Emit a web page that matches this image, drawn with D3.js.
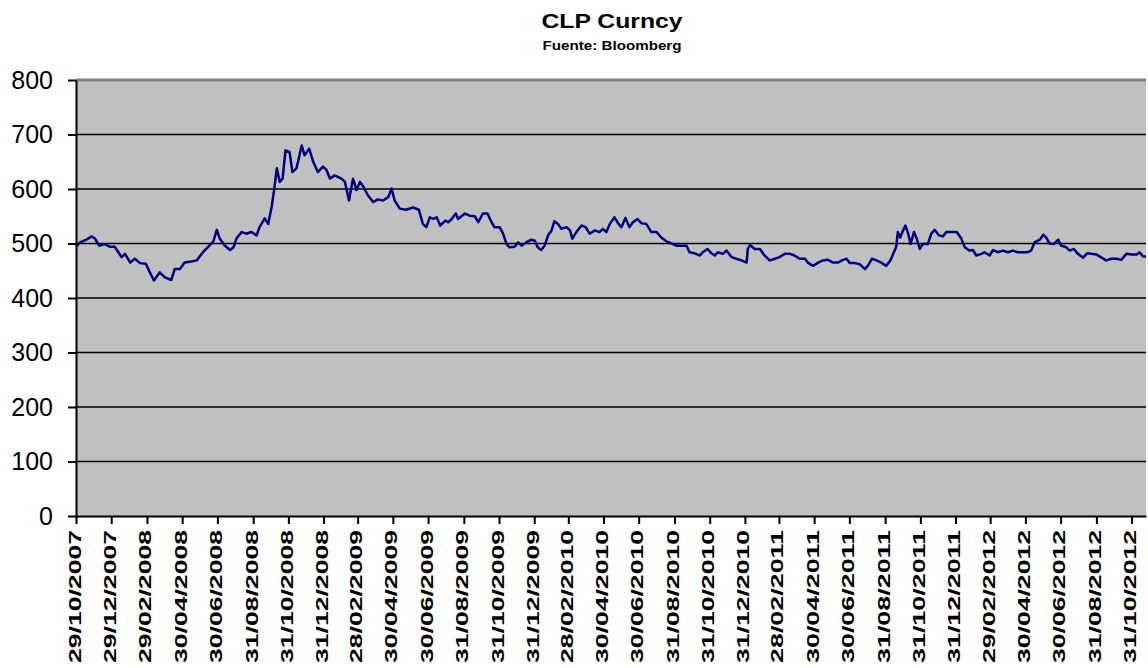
<!DOCTYPE html>
<meta charset="utf-8">
<style>
  body { margin: 0; background: #fff; }
  svg { display: block; font-family: "Liberation Sans", Arial, sans-serif; }
</style>
<svg width="1148" height="668"></svg>
<script src="https://d3js.org/d3.v7.min.js"></script>
<script>

// CLP Curncy (approx)
var fechas = [
  "29/10/2007","05/11/2007","16/11/2007","25/11/2007","01/12/2007","08/12/2007","18/12/2007","27/12/2007",
  "04/01/2008","16/01/2008","22/01/2008","31/01/2008","08/02/2008","17/02/2008","27/02/2008","05/03/2008",
  "12/03/2008","22/03/2008","31/03/2008","11/04/2008","17/04/2008","26/04/2008","04/05/2008","16/05/2008",
  "25/05/2008","05/06/2008","14/06/2008","23/06/2008","29/06/2008","04/07/2008","13/07/2008","22/07/2008",
  "28/07/2008","02/08/2008","11/08/2008","19/08/2008","28/08/2008","06/09/2008","11/09/2008","20/09/2008",
  "26/09/2008","02/10/2008","07/10/2008","11/10/2008","16/10/2008","21/10/2008","26/10/2008","02/11/2008",
  "07/11/2008","14/11/2008","18/11/2008","23/11/2008","28/11/2008","06/12/2008","13/12/2008","21/12/2008",
  "30/12/2008","05/01/2009","11/01/2009","19/01/2009","31/01/2009","06/02/2009","13/02/2009","20/02/2009",
  "26/02/2009","04/03/2009","10/03/2009","18/03/2009","27/03/2009","04/04/2009","13/04/2009","22/04/2009",
  "28/04/2009","03/05/2009","12/05/2009","23/05/2009","04/06/2009","14/06/2009","21/06/2009","27/06/2009",
  "03/07/2009","09/07/2009","15/07/2009","21/07/2009","30/07/2009","04/08/2009","10/08/2009","17/08/2009",
  "21/08/2009","02/09/2009","10/09/2009","19/09/2009","25/09/2009","03/10/2009","11/10/2009","18/10/2009",
  "23/10/2009","01/11/2009","07/11/2009","13/11/2009","18/11/2009","27/11/2009","03/12/2009","09/12/2009",
  "17/12/2009","26/12/2009","01/01/2010","06/01/2010","12/01/2010","18/01/2010","24/01/2010","30/01/2010",
  "04/02/2010","10/02/2010","16/02/2010","25/02/2010","03/03/2010","07/03/2010","14/03/2010","23/03/2010",
  "30/03/2010","06/04/2010","15/04/2010","23/04/2010","29/04/2010","05/05/2010","11/05/2010","19/05/2010",
  "26/05/2010","31/05/2010","07/06/2010","14/06/2010","20/06/2010","28/06/2010","05/07/2010","13/07/2010",
  "22/07/2010","31/07/2010","08/08/2010","17/08/2010","26/08/2010","03/09/2010","12/09/2010","21/09/2010",
  "26/09/2010","05/10/2010","14/10/2010","19/10/2010","27/10/2010","03/11/2010","09/11/2010","14/11/2010",
  "23/11/2010","29/11/2010","08/12/2010","16/12/2010","25/12/2010","03/01/2011","05/01/2011","09/01/2011",
  "17/01/2011","26/01/2011","03/02/2011","12/02/2011","21/02/2011","01/03/2011","10/03/2011","19/03/2011",
  "27/03/2011","05/04/2011","14/04/2011","19/04/2011","28/04/2011","07/05/2011","15/05/2011","24/05/2011",
  "02/06/2011","10/06/2011","19/06/2011","25/06/2011","01/07/2011","10/07/2011","18/07/2011","27/07/2011",
  "01/08/2011","08/08/2011","16/08/2011","24/08/2011","02/09/2011","09/09/2011","14/09/2011","19/09/2011",
  "22/09/2011","26/09/2011","30/09/2011","05/10/2011","10/10/2011","14/10/2011","20/10/2011","24/10/2011",
  "30/10/2011","04/11/2011","13/11/2011","19/11/2011","25/11/2011","02/12/2011","09/12/2011","15/12/2011",
  "24/12/2011","02/01/2012","10/01/2012","16/01/2012","24/01/2012","30/01/2012","05/02/2012","14/02/2012",
  "19/02/2012","28/02/2012","05/03/2012","13/03/2012","22/03/2012","31/03/2012","08/04/2012","17/04/2012",
  "26/04/2012","04/05/2012","10/05/2012","16/05/2012","25/05/2012","31/05/2012","05/06/2012","11/06/2012",
  "18/06/2012","26/06/2012","01/07/2012","10/07/2012","16/07/2012","23/07/2012","30/07/2012","08/08/2012",
  "15/08/2012","22/08/2012","31/08/2012","09/09/2012","17/09/2012","26/09/2012","05/10/2012","13/10/2012",
  "22/10/2012","31/10/2012","09/11/2012","14/11/2012","20/11/2012","25/11/2012"
]

var clp = [
  494,502,507,513,509,496,499,494,
  494,475,481,465,472,464,463,447,
  432,447,438,433,453,453,465,467,
  469,484,494,504,525,509,496,488,
  493,509,521,518,521,515,530,546,
  536,567,604,638,613,619,671,668,
  631,638,656,680,662,674,650,631,
  641,635,619,625,619,613,579,619,
  598,613,604,588,576,581,579,585,
  601,579,564,562,566,562,536,530,
  548,545,548,533,542,539,545,555,
  545,555,551,550,539,555,555,539,
  530,530,518,499,493,494,502,496,
  502,507,505,493,488,496,515,524,
  541,536,527,530,524,509,521,533,
  530,518,524,521,527,521,536,548,
  536,530,547,530,539,545,537,536,
  521,521,511,504,500,496,496,496,
  484,482,478,484,490,482,478,484,
  481,487,475,472,469,465,490,497,
  490,490,478,469,472,475,481,481,
  478,472,472,465,459,465,469,470,
  465,465,470,472,464,464,462,453,
  459,472,469,465,459,469,481,493,
  521,511,521,533,518,499,521,511,
  490,499,499,518,525,515,513,521,
  521,521,509,493,487,488,478,481,
  484,478,488,484,487,484,487,484,
  484,484,487,502,507,516,511,500,
  499,507,496,493,487,490,481,474,
  482,481,480,474,469,472,472,470,
  481,480,480,484,476,476
]

var etiquetas = [
  "29/10/2007","29/12/2007","29/02/2008","30/04/2008","30/06/2008","31/08/2008","31/10/2008",
  "31/12/2008","28/02/2009","30/04/2009","30/06/2009","31/08/2009","31/10/2009","31/12/2009",
  "28/02/2010","30/04/2010","30/06/2010","31/08/2010","31/10/2010","31/12/2010","28/02/2011",
  "30/04/2011","30/06/2011","31/08/2011","31/10/2011","31/12/2011","29/02/2012","30/04/2012",
  "30/06/2012","31/08/2012","31/10/2012"
]

var yTicks = [0, 100, 200, 300, 400, 500, 600, 700, 800]

var parse = d3.timeParse("%d/%m/%Y")
var fmt = d3.timeFormat("%d/%m/%Y")
var data = fechas.map(function (f, i) { return { fecha: parse(f), valor: clp[i] } })

var plotLeft = 76, plotRight = 1146, plotTop = 80, plotBottom = 516

var svg = d3.select("svg")

var x = d3.scaleTime()
  .domain([parse("29/10/2007"), parse("25/11/2012")])
  .range([plotLeft, plotRight])

var y = d3.scaleLinear()
  .domain([0, 800])
  .range([plotBottom, plotTop])

// plot area
svg.append("rect")
  .attr("x", plotLeft).attr("y", plotTop)
  .attr("width", plotRight - plotLeft).attr("height", plotBottom - plotTop)
  .attr("fill", "#c0c0c0")

// gridlines
svg.append("g")
  .selectAll("line")
  .data(yTicks.filter(function (d) { return d > 0 && d < 800 }))
  .enter().append("line")
    .attr("x1", plotLeft).attr("x2", plotRight)
    .attr("y1", function (d) { return y(d) }).attr("y2", function (d) { return y(d) })
    .attr("stroke", "#000").attr("stroke-width", 1.5)

// top border
svg.append("line")
  .attr("x1", plotLeft).attr("x2", plotRight)
  .attr("y1", y(800)).attr("y2", y(800))
  .attr("stroke", "#808080").attr("stroke-width", 3)

// series
var line = d3.line()
  .x(function (d) { return x(d.fecha) })
  .y(function (d) { return y(d.valor) })

svg.append("path")
  .datum(data)
  .attr("fill", "none")
  .attr("stroke", "#000080")
  .attr("stroke-width", 2.5)
  .attr("stroke-linejoin", "round")
  .attr("d", line)

// y axis
var yAxis = svg.append("g")
  .attr("transform", "translate(" + plotLeft + ",0)")
  .call(d3.axisLeft(y).tickValues(yTicks).tickSize(8).tickPadding(15).tickSizeOuter(0))
yAxis.select(".domain").attr("stroke", "#000").attr("stroke-width", 2)
yAxis.selectAll(".tick line").attr("stroke", "#000").attr("stroke-width", 2)
yAxis.selectAll(".tick text")
  .attr("font-size", 25)
  .attr("font-family", "Liberation Sans, Arial, sans-serif")
  .attr("fill", "#000")

// x axis
var xAxis = svg.append("g")
  .attr("transform", "translate(0," + plotBottom + ")")
  .call(d3.axisBottom(x).tickValues(etiquetas.map(parse)).tickFormat(fmt).tickSize(8).tickSizeOuter(0))
xAxis.select(".domain").attr("stroke", "#000").attr("stroke-width", 2)
xAxis.selectAll(".tick line").attr("stroke", "#000").attr("stroke-width", 2)
xAxis.selectAll(".tick text")
  .attr("transform", "rotate(-90)")
  .attr("text-anchor", "end")
  .attr("dy", null)
  .attr("x", -14)
  .attr("y", 4)
  .attr("font-size", 17)
  .attr("font-weight", "bold")
  .attr("font-family", "Liberation Sans, Arial, sans-serif")
  .attr("fill", "#000")
  .attr("textLength", 133)
  .attr("lengthAdjust", "spacingAndGlyphs")

// titles
svg.append("text")
  .attr("x", 612).attr("y", 28)
  .attr("text-anchor", "middle")
  .attr("font-size", 21)
  .attr("font-weight", "bold")
  .attr("textLength", 141)
  .attr("lengthAdjust", "spacingAndGlyphs")
  .text("CLP Curncy")

svg.append("text")
  .attr("x", 612).attr("y", 50)
  .attr("text-anchor", "middle")
  .attr("font-size", 13)
  .attr("font-weight", "bold")
  .attr("textLength", 139)
  .attr("lengthAdjust", "spacingAndGlyphs")
  .text("Fuente: Bloomberg")

</script>
